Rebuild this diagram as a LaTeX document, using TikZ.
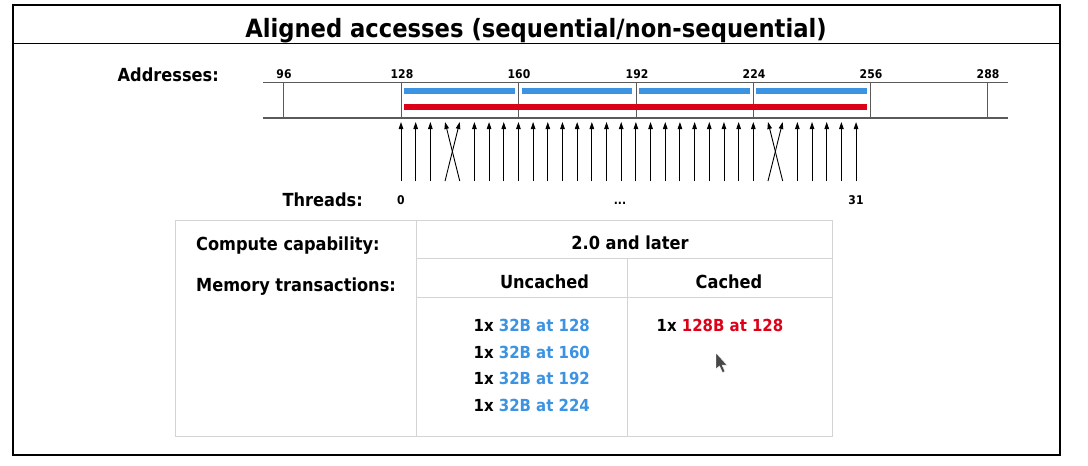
\documentclass[tikz,border=0pt]{standalone}
\usepackage{fontspec}
\setmainfont{DejaVu Sans Condensed}
\usetikzlibrary{arrows.meta}
\definecolor{cblue}{HTML}{3C93E2}
\definecolor{cred}{HTML}{DD0019}
\definecolor{tgray}{HTML}{D4D4D4}
\definecolor{bandgray}{HTML}{5A5A5A}
\definecolor{curgray}{HTML}{474747}
\newcommand\myfs[1]{\fontsize{#1}{#1}\selectfont\bfseries}
\begin{document}
\begin{tikzpicture}[x=1pt,y=-1pt,
  lab/.style={inner sep=0pt, font={\myfs{18}}},
  ticklab/.style={inner sep=0pt, anchor=base, font={\myfs{12}}},
  tx/.style={inner sep=0pt, font={\myfs{16.6}}},
  arr/.style={line width=0.9pt, -{Triangle[length=7pt,width=4.5pt]}},
  tline/.style={draw=tgray, line width=1pt}]
\useasboundingbox (0,0) rectangle (1088,466);
\fill[white] (0,0) rectangle (1088,466);
% frame
\draw[line width=1.2pt] (13,5) rectangle (1060,455);
\draw[line width=1.2pt] (1060.6,6) -- (1060.6,455.6) -- (13,455.6);
\draw[line width=1pt] (13,43) -- (1060,43);
\node[inner sep=0pt, anchor=base, font={\myfs{25.2}}] (title) at (536,37.5) {Aligned accesses (sequential/non-sequential)};
% address band
\node[lab, anchor=base east] (addr) at (219,81.5) {Addresses:};
\draw[bandgray, line width=1pt] (263,82) -- (1008,82);
\draw[bandgray, line width=2pt] (263,118) -- (1008,118);
\foreach \x/\l in {283/96, 401/128, 518/160, 636/192, 753/224, 870/256, 987/288}{
  \draw[bandgray, line width=1pt] (\x,82) -- (\x,118);
  \node[ticklab] (tick\l) at (\x+1,78) {\l};
}
% transaction bars
\foreach \a/\b in {404/515, 522/632, 639/750, 756/867}{
  \fill[cblue] (\a,88) rectangle (\b,94);
}
\fill[cred] (404,103.5) rectangle (867,110);
% thread arrows
\foreach \i in {0,...,31}{
  \coordinate (b\i) at ({401+\i*14.68},181);
  \coordinate (u\i) at ({401+\i*14.68},122);
}
\foreach \i in {0,1,2,5,6,...,24,27,28,...,31}{
  \draw[arr] (b\i) -- (u\i);
}
\draw[arr] (b3) -- (u4);
\draw[arr] (b4) -- (u3);
\draw[arr] (b25) -- (u26);
\draw[arr] (b26) -- (u25);
\node[lab, anchor=base east] (thr) at (363,206.5) {Threads:};
\node[ticklab] (t0) at (401,204) {0};
\node[ticklab] (tdots) at (620,204) {...};
\node[ticklab] (t31) at (856,204) {31};
% table
\draw[tline] (175,220) rectangle (832,436);
\draw[tline] (416,220) -- (416,436);
\draw[tline] (416,258) -- (832,258);
\draw[tline] (416,297) -- (832,297);
\draw[tline] (627,258) -- (627,436);
\node[lab, anchor=base west] (cc) at (196,250) {Compute capability:};
\node[lab, anchor=base west] (mt) at (196,291) {Memory transactions:};
\node[lab, anchor=base] (ver) at (630,249.5) {2.0 and later};
\node[lab, anchor=base] (unc) at (544.5,288) {Uncached};
\node[lab, anchor=base] (cac) at (729,288) {Cached};
\node[tx, anchor=base east] (u1) at (590,331.5) {1x \textcolor{cblue}{32B at 128}};
\node[tx, anchor=base east] (u2) at (590,358.2) {1x \textcolor{cblue}{32B at 160}};
\node[tx, anchor=base east] (u3t) at (590,384.9) {1x \textcolor{cblue}{32B at 192}};
\node[tx, anchor=base east] (u4t) at (590,411.6) {1x \textcolor{cblue}{32B at 224}};
\node[tx, anchor=base] (c1) at (720,331.5) {1x \textcolor{cred}{128B at 128}};
% mouse pointer
\fill[curgray, draw=white, line width=0.4pt] (716,353) -- (716,369) -- (719.5,366) -- (722.5,372.5) -- (725,371.5) -- (722,365) -- (727,365) -- cycle;
\end{tikzpicture}
\end{document}
